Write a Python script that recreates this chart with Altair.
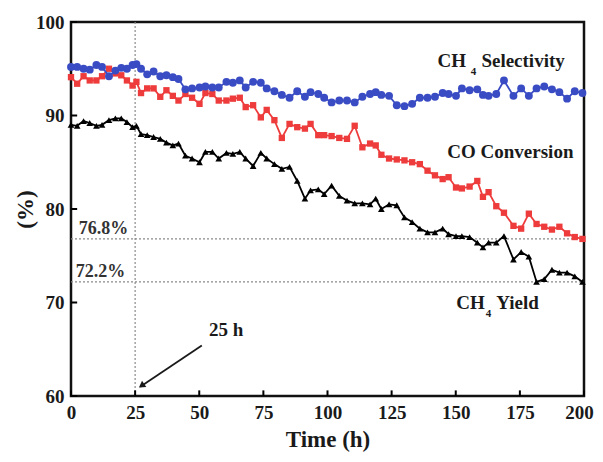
import altair as alt
import pandas as pd

# ---- data ----
hours = [0, 2.4, 4.9, 7.3, 9.9, 12.1, 14.8, 17.3, 19.6, 21.8,
         24.0, 25.5, 27.3, 29.7, 32.2, 34.8, 37.2, 39.7, 41.9, 44.6,
         47.2, 50.1, 52.4, 55.1, 57.6, 60.6, 63.1, 65.8, 68.1, 71.0,
         74.0, 76.3, 79.3, 82.2, 85.2, 88.2, 91.2, 93.4, 96.4, 98.7,
         101.6, 104.6, 107.6, 110.6, 113.6, 116.6, 118.8, 121.0, 124.0, 127.0,
         130.0, 133.0, 136.0, 139.0, 141.9, 144.9, 147.2, 150.1, 152.4, 155.4,
         158.4, 160.6, 162.8, 165.8, 168.8, 172.5, 175.5, 178.5, 181.5, 184.5,
         187.5, 190.4, 193.4, 196.4, 199.4]

ch4_selectivity = [95.2, 95.2, 95.0, 94.9, 95.4, 95.2, 94.2, 94.8, 95.1, 95.0,
                   95.4, 95.5, 95.0, 94.4, 94.7, 94.2, 94.3, 94.1, 93.9, 92.8,
                   92.9, 93.0, 93.1, 93.0, 93.0, 93.6, 93.5, 93.75, 93.0, 93.6,
                   93.5, 92.9, 92.6, 92.2, 91.9, 92.6, 92.0, 92.5, 92.3, 91.9,
                   91.4, 91.6, 91.6, 91.4, 92.0, 92.3, 92.5, 92.2, 92.1, 91.1,
                   91.0, 91.25, 91.9, 91.9, 92.0, 92.4, 92.3, 92.1, 92.9, 92.7,
                   92.8, 92.2, 92.1, 92.3, 93.75, 92.1, 92.9, 92.1, 92.9, 93.1,
                   92.8, 92.5, 91.8, 92.6, 92.4]

co_conversion = [94.1, 93.4, 94.2, 93.75, 93.75, 94.2, 95.0, 94.5, 94.3, 93.75,
                 93.2, 93.6, 92.4, 92.9, 92.9, 92.0, 92.7, 92.1, 91.6, 92.3,
                 91.9, 91.25, 92.4, 92.3, 91.6, 91.6, 91.8, 91.9, 90.9, 91.1,
                 89.8, 90.6, 89.5, 87.6, 89.1, 88.75, 88.6, 89.1, 87.9, 87.9,
                 87.8, 87.6, 87.5, 88.9, 86.6, 87.0, 86.8, 85.8, 85.4, 85.3,
                 85.2, 85.0, 84.8, 84.1, 83.6, 83.2, 83.4, 82.3, 82.2, 82.4,
                 83.0, 81.3, 81.8, 80.3, 79.6, 78.2, 77.9, 79.5, 78.4, 78.1,
                 77.8, 78.1, 77.4, 77.0, 76.8]

ch4_yield = [89.0, 88.9, 89.4, 89.2, 88.9, 89.0, 89.5, 89.7, 89.7, 89.3,
             88.75, 88.9, 88.0, 87.9, 87.7, 87.5, 87.1, 86.8, 87.0, 85.7,
             85.4, 85.0, 86.1, 86.1, 85.4, 86.0, 85.9, 86.1, 85.4, 84.6,
             86.0, 85.4, 84.8, 84.3, 84.5, 83.0, 81.1, 82.0, 82.1, 81.6,
             82.5, 81.4, 80.9, 80.6, 80.6, 80.5, 81.1, 80.0, 80.5, 80.4,
             79.1, 78.6, 77.9, 77.5, 77.5, 77.9, 77.3, 77.1, 77.1, 77.0,
             76.4, 75.9, 76.4, 76.4, 77.1, 74.6, 75.4, 74.9, 72.2, 72.5,
             73.5, 73.2, 73.2, 72.8, 72.2]

x_ticks = [0, 25, 50, 75, 100, 125, 150, 175, 200]
y_ticks = [60, 70, 80, 90, 100]
ref_levels = [76.8, 72.2]
ref_labels = ["76.8%", "72.2%"]
marker_hour = 25

FONT = "Liberation Serif"
BLUE = "#3a4cc4"
RED = "#ee3b3b"
BLACK = "#000000"
TXT = "#1a1a1a"

xs = alt.Scale(domain=[0, 200], nice=False, zero=False)
ys = alt.Scale(domain=[60, 100], nice=False, zero=False)

df = pd.DataFrame({"t": hours, "sel": ch4_selectivity, "conv": co_conversion, "yld": ch4_yield})

X = alt.X("t:Q", scale=xs, axis=alt.Axis(
    values=x_ticks, title="Time (h)", format="d",
    labelOffset={"condition": {"test": "datum.value == 200", "value": -5}, "value": 0}))
base = alt.Chart(df)

def series(field, color, shape, size):
    y = alt.Y(f"{field}:Q", scale=ys, axis=alt.Axis(values=y_ticks, title="(%)"))
    line = base.mark_line(color=color, strokeWidth=1.8).encode(x=X, y=y)
    pts = base.mark_point(color=color, filled=True, opacity=1, shape=shape, size=size).encode(x=X, y=y)
    return line + pts

sel_layer = series("sel", BLUE, "circle", 62)
conv_layer = series("conv", RED, "square", 40)
yld_layer = series("yld", BLACK, "triangle-up", 45)

# dotted reference lines
ref_df = pd.DataFrame({"y": ref_levels, "label": ref_labels, "x0": [0, 0], "x1": [200, 200], "xl": [3.0, 1.9]})
ref_rules = alt.Chart(ref_df).mark_rule(color="#8a8a8a", strokeDash=[2, 2], strokeWidth=1.2).encode(
    x=alt.X("x0:Q", scale=xs), x2="x1:Q", y=alt.Y("y:Q", scale=ys))
ref_text = alt.Chart(ref_df).mark_text(font=FONT, fontSize=18, fontWeight="bold", color="#333333",
                                       align="left", baseline="alphabetic", dy=-5).encode(
    x=alt.X("xl:Q", scale=xs), y=alt.Y("y:Q", scale=ys), text="label:N")

vline_df = pd.DataFrame({"x": [marker_hour], "y0": [60], "y1": [100]})
vline = alt.Chart(vline_df).mark_rule(color="#8a8a8a", strokeDash=[2, 2], strokeWidth=1.2).encode(
    x=alt.X("x:Q", scale=xs), y=alt.Y("y0:Q", scale=ys), y2="y1:Q")

# inward ticks
yt_df = pd.DataFrame({"y": y_ticks, "x0": [0] * 5, "x1": [2.4] * 5})
ytick = alt.Chart(yt_df).mark_rule(color="black", strokeWidth=2).encode(
    x=alt.X("x0:Q", scale=xs), x2="x1:Q", y=alt.Y("y:Q", scale=ys))
xt_df = pd.DataFrame({"x": x_ticks, "y0": [60] * 9, "y1": [60.6] * 9})
xtick = alt.Chart(xt_df).mark_rule(color="black", strokeWidth=2).encode(
    x=alt.X("x:Q", scale=xs), y=alt.Y("y0:Q", scale=ys), y2="y1:Q")

# series labels
lab_x = [154.0, 160.0, 171.3, 161.3, 165.8]
lab_y = [95.8, 95.8, 86.1, 69.9, 69.9]
lab_text = ["CH", "Selectivity", "CO Conversion", "CH", "Yield"]
lab_al = ["right", "left", "center", "right", "left"]
lab_df = pd.DataFrame({"x": lab_x, "y": lab_y, "text": lab_text, "al": lab_al})

def lab(a):
    sub = lab_df[lab_df["al"] == a]
    return alt.Chart(sub).mark_text(font=FONT, fontSize=19, fontWeight="bold", color=TXT,
                                    align=a, baseline="middle").encode(
        x=alt.X("x:Q", scale=xs), y=alt.Y("y:Q", scale=ys), text="text:N")

labels = lab("right") + lab("left") + lab("center")
sub_df = pd.DataFrame({"x": [156.9, 162.8], "y": [94.7, 68.8], "text": ["4", "4"]})
subs = alt.Chart(sub_df).mark_text(font=FONT, fontSize=11, fontWeight="bold", color=TXT,
                                   align="center", baseline="middle").encode(
    x=alt.X("x:Q", scale=xs), y=alt.Y("y:Q", scale=ys), text="text:N")

# 25 h annotation with arrow
ann_df = pd.DataFrame({"x": [60.5], "y": [67.1], "text": ["25 h"]})
ann = alt.Chart(ann_df).mark_text(font=FONT, fontSize=19, fontWeight="bold", color=TXT,
                                  align="center", baseline="middle").encode(
    x=alt.X("x:Q", scale=xs), y=alt.Y("y:Q", scale=ys), text="text:N")
arr_df = pd.DataFrame({"x0": [51.0], "y0": [65.4], "x1": [27.0], "y1": [61.0]})
arrow_line = alt.Chart(arr_df).mark_rule(color=TXT, strokeWidth=1.8).encode(
    x=alt.X("x0:Q", scale=xs), y=alt.Y("y0:Q", scale=ys), x2="x1:Q", y2="y1:Q")
head_df = pd.DataFrame({"x": [27.5], "y": [61.1]})
arrow_head = alt.Chart(head_df).mark_point(shape="triangle-up", filled=True, color=TXT,
                                           opacity=1, size=55, angle=235).encode(
    x=alt.X("x:Q", scale=xs), y=alt.Y("y:Q", scale=ys))

chart = alt.layer(
    ref_rules, vline, ytick, xtick,
    conv_layer, yld_layer, sel_layer,
    ref_text, labels, subs, ann, arrow_line, arrow_head,
).properties(
    width=513, height=374,
    autosize=alt.AutoSizeParams(type="none"),
    padding={"left": 63, "top": 14, "right": 11, "bottom": 58},
).configure_view(
    stroke="#111111", strokeWidth=2.5,
).configure_axis(
    labelFont=FONT, labelFontSize=19, labelFontWeight="bold", labelColor=TXT,
    titleFont=FONT, titleFontSize=23, titleFontWeight="bold", titleColor=TXT,
    ticks=False, domain=False, grid=False, labelFlush=False,
).configure_axisX(
    labelPadding=7, titlePadding=6,
).configure_axisY(
    labelPadding=7, titlePadding=-2,
)

chart.save("out.html", embed_options={"renderer": "svg", "actions": False})
